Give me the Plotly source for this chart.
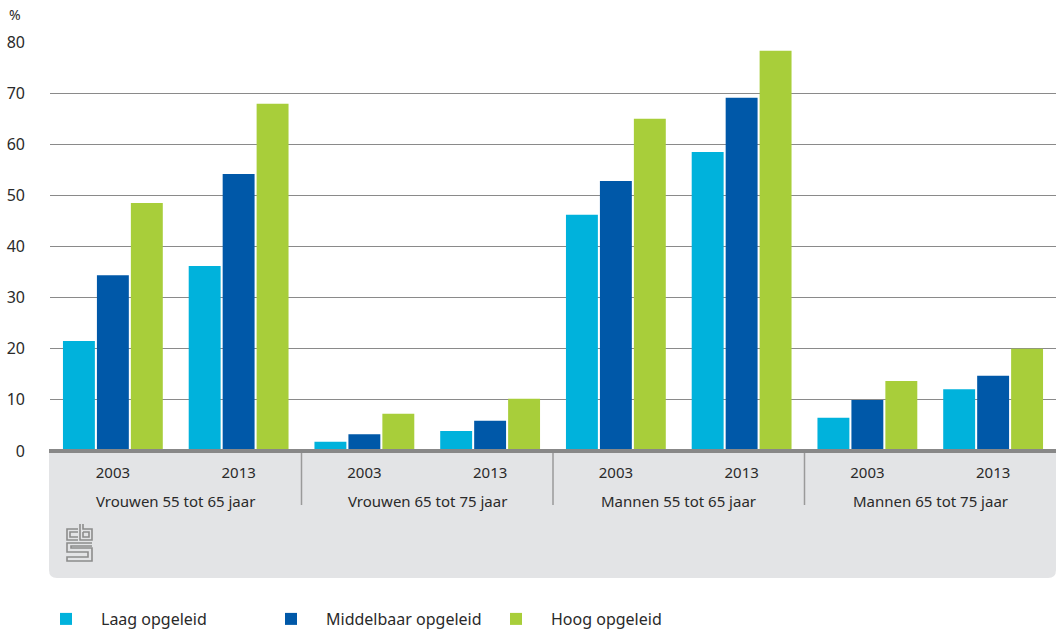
import plotly.graph_objects as go

groups = ["Vrouwen 55 tot 65 jaar", "Vrouwen 65 tot 75 jaar", "Mannen 55 tot 65 jaar", "Mannen 65 tot 75 jaar"]
years = ["2003", "2013"]
series_names = ["Laag opgeleid", "Middelbaar opgeleid", "Hoog opgeleid"]
laag = [21.5, 36.2, 1.8, 3.9, 46.2, 58.5, 6.5, 12.1]
middelbaar = [34.4, 54.2, 3.3, 5.9, 52.8, 69.1, 10.0, 14.7]
hoog = [48.5, 67.9, 7.3, 10.2, 65.0, 78.3, 13.7, 20.0]
colors = ["#00b2dc", "#0058a8", "#a8ce3a"]

W, H = 1056, 630
L, R, T, B = 50, 0, 42, 179
PW, PH = W - L - R, H - T - B

def px(x):
    return (x - L) / PW

def py(y):
    return (H - B - y) / PH

FONT = "Noto Sans"
TXT = "#2a2a2a"

xpos = list(range(len(laag)))
fig = go.Figure()
for name, vals, col in zip(series_names, [laag, middelbaar, hoog], colors):
    fig.add_trace(go.Bar(x=xpos, y=vals, name=name, marker=dict(color=col, line=dict(width=0))))

shapes = []
# gray category band with rounded bottom corners
r = 8
x0, x1 = px(49), px(1056)
yt, yb = py(451), py(578)
rx, ry = r / PW, r / PH
path = (f"M{x0},{yt} L{x1},{yt} L{x1},{yb+ry} Q{x1},{yb} {x1-rx},{yb} "
        f"L{x0+rx},{yb} Q{x0},{yb} {x0},{yb+ry} Z")
shapes.append(dict(type="path", xref="paper", yref="paper", path=path,
                   fillcolor="#e3e4e6", line=dict(width=0), layer="below"))
# baseline
shapes.append(dict(type="rect", xref="paper", yref="paper", x0=px(49), x1=px(1056),
                   y0=py(453), y1=py(449), fillcolor="#888888", line=dict(width=0), layer="above"))
# separators
for sx in [1.5, 3.5, 5.5]:
    shapes.append(dict(type="line", xref="x", yref="paper", x0=sx, x1=sx,
                       y0=py(453), y1=py(505), line=dict(color="#9a9a9a", width=1.5)))

# cbs logo (approximate)
lg = dict(color="#8c8c8c", width=1.6)
def lpath(pts):
    d = "M" + " L".join(f"{px(a)},{py(b)}" for a, b in pts)
    shapes.append(dict(type="path", xref="paper", yref="paper", path=d, line=lg))
# c
lpath([(78, 529), (67, 529), (67, 540), (78, 540)])
lpath([(78, 532), (70, 532), (70, 537), (78, 537)])
# b
lpath([(80, 524), (80, 540), (92, 540), (92, 529), (83, 529), (83, 524)])
lpath([(83, 532), (89, 532), (89, 537), (83, 537), (83, 532)])
# s (double-line maze)
lpath([(92, 543), (67, 543), (67, 552), (88, 552), (88, 557), (67, 557), (67, 561), (92, 561), (92, 548), (71, 548), (71, 546), (92, 546)])

annotations = []
for i, g in enumerate(groups):
    annotations.append(dict(x=2 * i + 0.5, y=py(501), xref="x", yref="paper", text=g,
                            yanchor="middle", showarrow=False,
                            font=dict(family=FONT, size=15, color=TXT)))
annotations.append(dict(x=px(7), y=py(15), xref="paper", yref="paper", text="%",
                        xanchor="left", yanchor="middle",
                        showarrow=False, font=dict(family=FONT, size=14, color=TXT)))

fig.update_layout(
    width=W, height=H,
    margin=dict(l=L, r=R, t=T, b=B, autoexpand=False),
    paper_bgcolor="white", plot_bgcolor="white",
    barmode="group", bargap=0.19, bargroupgap=0.06,
    font=dict(family=FONT, size=15, color=TXT),
    xaxis=dict(range=[-0.5, 7.5], tickvals=xpos, ticktext=years * 4, showgrid=False,
               zeroline=False, showline=False, ticks="", ticklabelstandoff=11, automargin=False,
               tickfont=dict(family=FONT, size=15, color=TXT), fixedrange=True),
    yaxis=dict(range=[0, 80], dtick=10, showgrid=True, gridcolor="#8a8a8a", gridwidth=1.3,
               zeroline=False, showline=False, ticks="", ticklabelstandoff=24, automargin=False,
               tickfont=dict(family=FONT, size=16, color=TXT)),
    shapes=shapes, annotations=annotations,
    legend=dict(orientation="h", x=px(31), y=py(602), xanchor="left", yanchor="top",
                font=dict(family=FONT, size=16, color=TXT), itemwidth=60,
                entrywidth=150, traceorder="normal"),
    showlegend=True,
)

fig.write_html("out.html", config={"displayModeBar": False},
               post_script="document.body.style.margin='0';document.body.style.padding='0';")
